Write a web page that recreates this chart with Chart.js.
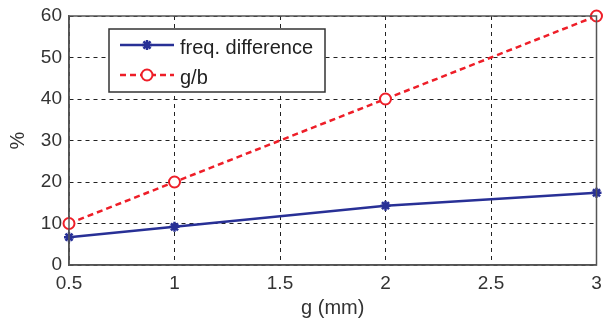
<!DOCTYPE html>
<html lang="en">
  <head>
    <meta charset="UTF-8" />
    <title>freq. difference vs g</title>
    <script src="https://cdn.jsdelivr.net/npm/chart.js"></script>
    <style>
      html, body { margin: 0; padding: 0; background: #fff; }
      #wrap { width: 604px; height: 322px; }
    </style>
  </head>
  <body>
    <div id="wrap"><canvas id="gapChart" width="604" height="322"></canvas></div>
    <script>
      // values
      const gapMm = [0.5, 1, 2, 3];
      const freqDifference = [6.7, 9.2, 14.3, 17.4];
      const gOverB = [10, 20, 40, 60];
      const seriesLabels = ["freq. difference", "g/b"];

      const FONT = "'Liberation Sans', Arial, sans-serif";
      const blue = "rgb(40, 48, 150)";
      const red = "rgb(238, 30, 40)";
      const gridColor = "#222";
      const frameColor = "#555";

      // MATLAB-like frame + legend box inside the axes
      const matlabFrame = {
        id: "matlabFrame",
        afterDraw(chart) {
          const { ctx, chartArea: a } = chart;
          ctx.save();
          ctx.strokeStyle = frameColor;
          ctx.lineWidth = 1.5;
          ctx.strokeRect(a.left, a.top, a.right - a.left, a.bottom - a.top);

          // legend
          const bx = 109, by = 29, bw = 216, bh = 63;
          ctx.fillStyle = "#fff";
          ctx.fillRect(bx, by, bw, bh);
          ctx.strokeStyle = "#333";
          ctx.lineWidth = 1.5;
          ctx.strokeRect(bx, by, bw, bh);

          const rows = [45, 75];
          chart.data.datasets.forEach((ds, i) => {
            const y = rows[i];
            ctx.strokeStyle = ds.borderColor;
            ctx.lineWidth = ds.borderWidth;
            ctx.setLineDash(ds.borderDash || []);
            ctx.beginPath();
            ctx.moveTo(120, y);
            ctx.lineTo(174, y);
            ctx.stroke();
            ctx.setLineDash([]);
            ctx.fillStyle = ds.pointBackgroundColor;
            ctx.strokeStyle = ds.pointBorderColor;
            ctx.lineWidth = ds.pointBorderWidth;
            Chart.helpers.drawPoint(ctx, {
              pointStyle: ds.pointStyle,
              radius: ds.pointRadius,
              borderWidth: ds.pointBorderWidth,
              rotation: 0
            }, 147, y);
            ctx.fillStyle = "#222";
            ctx.font = "20px " + FONT;
            ctx.textBaseline = "alphabetic";
            ctx.fillText(ds.label, 180, y + 9);
          });
          ctx.restore();
        }
      };

      const ctx = document.getElementById("gapChart").getContext("2d");
      new Chart(ctx, {
        type: "line",
        data: {
          datasets: [
            {
              label: seriesLabels[0],
              data: gapMm.map((g, i) => ({ x: g, y: freqDifference[i] })),
              borderColor: blue,
              backgroundColor: blue,
              borderWidth: 2.5,
              pointStyle: "star",
              pointRadius: 5,
              pointBorderWidth: 2.5,
              pointBorderColor: blue,
              pointBackgroundColor: blue,
              clip: false
            },
            {
              label: seriesLabels[1],
              data: gapMm.map((g, i) => ({ x: g, y: gOverB[i] })),
              borderColor: red,
              backgroundColor: "#fff",
              borderWidth: 2.5,
              borderDash: [6, 4],
              pointStyle: "circle",
              pointRadius: 5.5,
              pointBorderWidth: 2,
              pointBorderColor: red,
              pointBackgroundColor: "#fff",
              clip: false
            }
          ]
        },
        options: {
          responsive: false,
          animation: false,
          layout: { padding: { top: 16, right: 3, left: 0, bottom: 0 } },
          plugins: { legend: { display: false }, tooltip: { enabled: false } },
          scales: {
            x: {
              type: "linear",
              min: 0.5,
              max: 3,
              ticks: {
                stepSize: 0.5,
                padding: 7,
                color: "#333",
                font: { family: FONT, size: 19 },
                callback: (v) => String(v)
              },
              grid: { color: gridColor, lineWidth: 1, drawTicks: false },
              border: { color: frameColor, width: 1.5, dash: [4, 4] },
              title: {
                display: true,
                text: "g (mm)",
                color: "#333",
                font: { family: FONT, size: 20 },
                padding: { top: 2, bottom: 2 }
              },
              afterFit(scale) {
                scale.height = 57;
                scale.paddingLeft = 0;
                scale.paddingRight = 0;
              }
            },
            y: {
              min: 0,
              max: 60,
              ticks: {
                stepSize: 10,
                padding: 7,
                color: "#333",
                font: { family: FONT, size: 19 }
              },
              grid: { color: gridColor, lineWidth: 1, drawTicks: false },
              border: { color: frameColor, width: 1.5, dash: [4, 4] },
              title: {
                display: true,
                text: "%",
                color: "#333",
                font: { family: FONT, size: 20 },
                padding: { top: 6, bottom: 2 }
              },
              afterFit(scale) {
                scale.width = 69;
                scale.paddingTop = 0;
                scale.paddingBottom = 0;
              }
            }
          }
        },
        plugins: [matlabFrame]
      });
    </script>
  </body>
</html>
